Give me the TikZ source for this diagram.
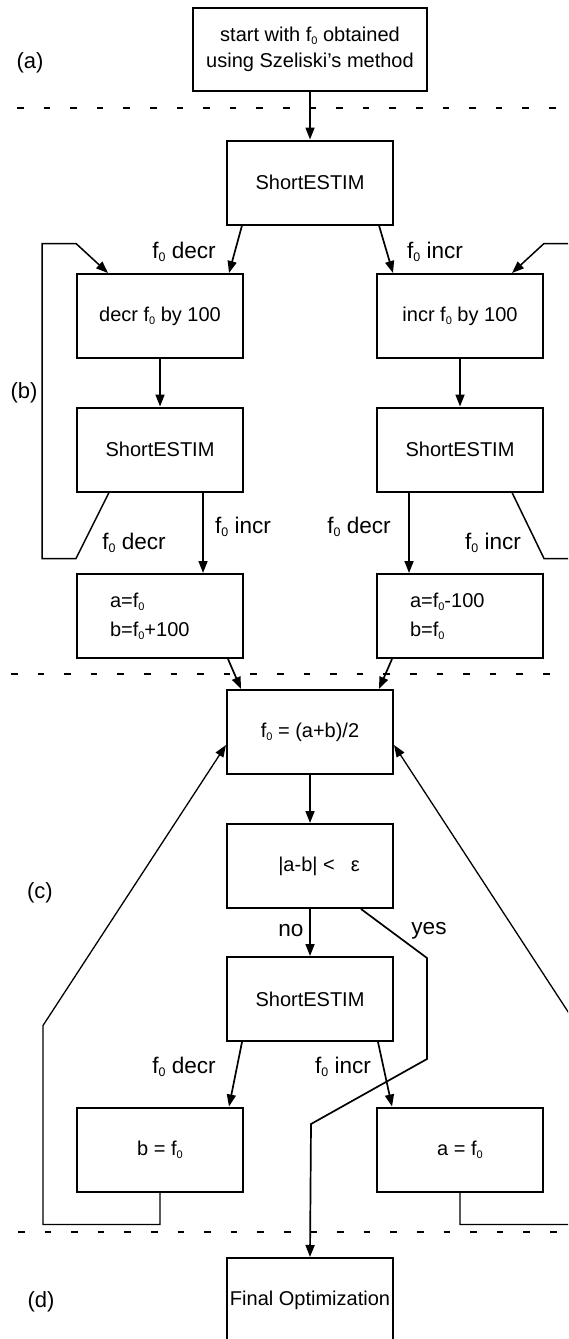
\documentclass[tikz,border=0pt]{standalone}
\usepackage{fontspec}
\setmainfont{Liberation Sans}
\usetikzlibrary{arrows.meta,calc}
\newcommand\fzero{f\raisebox{-0.3ex}{\scalebox{0.55}{0}}}
\begin{document}
\begin{tikzpicture}[x=0.5pt,y=-0.5pt,
  box/.style={draw,line width=1pt,minimum width=83pt,minimum height=42pt,
    inner sep=0pt,align=center,font=\fontsize{10}{13}\selectfont},
  arr/.style={line width=0.85pt,-{Triangle[length=6pt,width=4.5pt]}},
  fback/.style={line width=0.65pt,-{Triangle[length=6pt,width=4.5pt]}},
  lbl/.style={inner sep=0pt,font=\fontsize{11.3}{13}\selectfont},
  part/.style={inner sep=0pt,font=\fontsize{11}{13}\selectfont},
  sep/.style={line width=0.6pt,dash pattern=on 3.3pt off 10pt},
  twoline/.style={align=left,text width=50pt,inner xsep=16.5pt,
    font=\fontsize{10}{14.5}\selectfont}]
\useasboundingbox (0,0) rectangle (568,1339);
\clip (0,0) rectangle (568,1339);

% stage separators
\draw[sep] (17,108) -- (560,108);
\draw[sep] (11,674) -- (553,674);
\draw[sep] (18,1232) -- (562,1232);

% stage names
\node[part] (pa) at (30,63) {(a)};
\node[part] (pb) at (24,393) {(b)};
\node[part] (pc) at (40,893) {(c)};
\node[part] (pd) at (41,1302) {(d)};

% boxes
\node[box,minimum width=117pt,minimum height=41.5pt] (start) at (310,49.5)
  {start with \fzero{} obtained\\using Szeliski’s method};
\node[box] (se1) at (310,182.5) {ShortESTIM};
\node[box] (decr) at (160,316) {decr \fzero{} by 100};
\node[box] (incr) at (460,316) {incr \fzero{} by 100};
\node[box] (se2l) at (160,449.5) {ShortESTIM};
\node[box] (se2r) at (460,449.5) {ShortESTIM};
\node[box,twoline] (abl) at (160,616) {a=\fzero\\b=\fzero+100};
\node[box,twoline] (abr) at (460,616) {a=\fzero-100\\b=\fzero};
\node[box] (mid) at (310,732) {\fzero{} = (a+b)/2};
\node[box] (eps) at (310,866) {\hspace{9pt}|a-b| <\hspace{0.8em}ε};
\node[box] (se3) at (310,999) {ShortESTIM};
\node[box] (bf) at (160,1149.5) {b = \fzero};
\node[box] (af) at (460,1149.5) {a = \fzero};
\node[box] (fin) at (310,1300) {Final Optimization};

% stage (a) -> (b)
\draw[arr] (start.south) -- (se1.north);
\draw[arr] ($(se1.south west)+(16,0)$) -- ($(decr.north east)+(-15,0)$);
\draw[arr] ($(se1.south east)+(-15,0)$) -- ($(incr.north west)+(17,0)$);
\node[lbl] (l1) at (184,252) {\fzero{} decr};
\node[lbl] (l2) at (435,252) {\fzero{} incr};

\draw[arr] (decr.south) -- (se2l.north);
\draw[arr] (incr.south) -- (se2r.north);

% repeat loops
\draw[arr,line width=0.75pt] ($(se2l.south west)+(33,0)$) -- ++(-33,66) -- ++(-34,0)
  -- ++(0,-315) -- ++(34,0) -- ($(decr.north west)+(32,0)$);
\draw[arr,line width=0.75pt] ($(se2r.south east)+(-32,0)$) -- ++(32,66) -- ++(34,0)
  -- ++(0,-315) -- ++(-34,0) -- ($(incr.north east)+(-32,0)$);
\node[lbl] (l3) at (134,543) {\fzero{} decr};
\node[lbl] (l4) at (493,543) {\fzero{} incr};

\draw[arr] ($(se2l.south east)+(-41,0)$) -- ($(abl.north east)+(-41,0)$);
\draw[arr] ($(se2r.south west)+(33,0)$) -- ($(abr.north west)+(33,0)$);
\node[lbl] (l5) at (243,527) {\fzero{} incr};
\node[lbl] (l6) at (359,527) {\fzero{} decr};

% stage (c): bisection
\draw[arr] ($(abl.south east)+(-16,0)$) -- ($(mid.north west)+(15,0)$);
\draw[arr] ($(abr.south west)+(16,0)$) -- ($(mid.north east)+(-15,0)$);
\draw[arr] (mid.south) -- (eps.north);
\draw[arr] (eps.south) -- (se3.north);
\node[lbl] (lno) at (291,931) {no};
\draw[arr] ($(eps.south east)+(-33,0)$) -- ++(66,49) -- ++(0,101) -- ++(-116,65)
  -- (fin.north);
\node[lbl] (lyes) at (429,931) {yes};

\draw[arr] ($(se3.south west)+(16,0)$) -- ($(bf.north east)+(-15,0)$);
\draw[arr] ($(se3.south east)+(-16,0)$) -- ($(af.north west)+(16,0)$);
\node[lbl] (l7) at (184,1067) {\fzero{} decr};
\node[lbl] (l8) at (343,1067) {\fzero{} incr};

% feedback to the midpoint step
\draw[fback] (bf.south) -- ++(0,32) -- ++(-117,0) -- ++(0,-199)
  -- ($(mid.west)+(0,13)$);
\draw[fback] (af.south) -- ++(0,32) -- ++(117,0) -- ++(0,-199)
  -- ($(mid.east)+(0,13)$);
\end{tikzpicture}
\end{document}
